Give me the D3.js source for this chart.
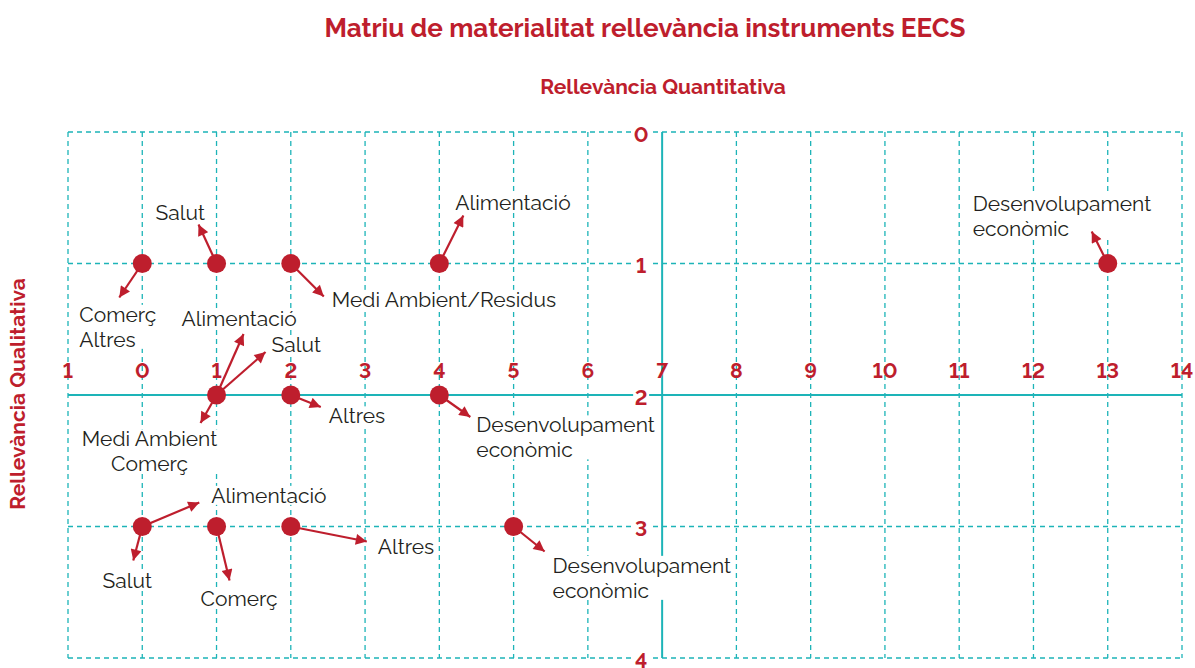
<!DOCTYPE html>
<html>
<head>
  <meta charset="utf-8">
  <title>Matriu de materialitat</title>
  <script src="https://cdn.jsdelivr.net/npm/d3@7"></script>
  <style>
    body { margin: 0; background: #fff; }
    text { font-family: Raleway, "Open Sans", sans-serif; font-variant-numeric: lining-nums; }
  </style>
</head>
<body>
<svg id="chart" width="1195" height="668"></svg>
<script>
  // points: quantitative (x) / qualitative (y) relevance
  const pointX = [0, 1, 2, 4, 13, 1, 2, 4, 0, 1, 2, 5];
  const pointY = [1, 1, 1, 1, 1, 2, 2, 2, 3, 3, 3, 3];
  const xTicks = [-1, 0, 1, 2, 3, 4, 5, 6, 7, 8, 9, 10, 11, 12, 13, 14];
  const xTickLabels = ['1', '0', '1', '2', '3', '4', '5', '6', '7', '8', '9', '10', '11', '12', '13', '14'];
  const yTicks = [0, 1, 2, 3, 4];

  // annotations: point index, arrow tip offset (px), label lines + offset (px)
  const notes = [
    { p: 0, tip: [-23, 34], lines: ['Comerç', 'Altres'], at: [-63, 51], anchor: 'start' },
    { p: 1, tip: [-18, -39], lines: ['Salut'], at: [-61, -51], anchor: 'start' },
    { p: 2, tip: [33, 33], lines: ['Medi Ambient/Residus'], at: [41, 36], anchor: 'start' },
    { p: 3, tip: [24, -48], lines: ['Alimentació'], at: [16, -61], anchor: 'start' },
    { p: 4, tip: [-16, -32], lines: ['Desenvolupament', 'econòmic'], at: [-135, -60], anchor: 'start' },
    { p: 5, tip: [27, -61], lines: ['Alimentació'], at: [-35, -76], anchor: 'start' },
    { p: 5, tip: [49, -43], lines: ['Salut'], at: [55, -50], anchor: 'start' },
    { p: 5, tip: [-16, 28], lines: ['Medi Ambient', 'Comerç'], at: [-67, 44], anchor: 'middle' },
    { p: 6, tip: [30, 12], lines: ['Altres'], at: [38, 21], anchor: 'start' },
    { p: 7, tip: [31, 22], lines: ['Desenvolupament', 'econòmic'], at: [37, 30], anchor: 'start' },
    { p: 8, tip: [57, -24], lines: ['Alimentació'], at: [69, -31], anchor: 'start' },
    { p: 8, tip: [-9, 34], lines: ['Salut'], at: [-15, 54], anchor: 'middle' },
    { p: 9, tip: [13, 54], lines: ['Comerç'], at: [-16, 72], anchor: 'start' },
    { p: 10, tip: [76, 15], lines: ['Altres'], at: [87, 20], anchor: 'start' },
    { p: 11, tip: [31, 25], lines: ['Desenvolupament', 'econòmic'], at: [39, 39], anchor: 'start' }
  ];

  const red = '#be1e2d';
  const teal = '#1db4b8';
  const svg = d3.select('#chart');

  const x = d3.scaleLinear().domain([-1, 14]).range([68, 1182]);
  const y = d3.scaleLinear().domain([0, 4]).range([132, 658]);

  svg.append('defs').append('marker')
    .attr('id', 'head')
    .attr('viewBox', '0 0 10 10')
    .attr('refX', 10).attr('refY', 5)
    .attr('markerWidth', 6).attr('markerHeight', 5)
    .attr('markerUnits', 'strokeWidth')
    .attr('orient', 'auto')
    .append('path').attr('d', 'M0,0L10,5L0,10z').attr('fill', red);

  // grid
  const grid = svg.append('g');
  grid.selectAll('.vx').data(xTicks.filter(d => d !== 7)).join('line')
    .attr('x1', d => x(d)).attr('x2', d => x(d))
    .attr('y1', y(0)).attr('y2', y(4))
    .attr('stroke', teal).attr('stroke-width', 1.3).attr('stroke-dasharray', '5,4');
  grid.selectAll('.hy').data(yTicks.filter(d => d !== 2)).join('line')
    .attr('x1', x(-1)).attr('x2', x(14))
    .attr('y1', d => y(d)).attr('y2', d => y(d))
    .attr('stroke', teal).attr('stroke-width', 1.3).attr('stroke-dasharray', '5,4');
  // main axes
  grid.append('line').attr('x1', x(-1)).attr('x2', x(14)).attr('y1', y(2)).attr('y2', y(2))
    .attr('stroke', teal).attr('stroke-width', 2);
  grid.append('line').attr('x1', x(7)).attr('x2', x(7)).attr('y1', y(0)).attr('y2', y(4))
    .attr('stroke', teal).attr('stroke-width', 2);

  // tick labels
  svg.append('g').selectAll('text').data(xTicks).join('text')
    .attr('x', d => x(d)).attr('y', y(2) - 17)
    .attr('text-anchor', 'middle').attr('font-size', 21).attr('font-weight', 700)
    .attr('fill', red)
    .text((d, i) => xTickLabels[i]);

  const yt = svg.append('g').selectAll('g').data(yTicks).join('g')
    .attr('transform', d => `translate(${x(7) - 21},${y(d) + 2})`);
  yt.append('rect').attr('x', -8).attr('y', -10).attr('width', 16).attr('height', 20).attr('fill', '#fff');
  yt.append('text').attr('text-anchor', 'middle').attr('dy', '0.36em')
    .attr('font-size', 21).attr('font-weight', 700).attr('fill', red)
    .text(d => d);

  // titles
  svg.append('text').attr('x', 645).attr('y', 37).attr('text-anchor', 'middle')
    .attr('font-size', 26).attr('font-weight', 700).attr('fill', red)
    .text('Matriu de materialitat rellevància instruments EECS');
  svg.append('text').attr('x', 663).attr('y', 94).attr('text-anchor', 'middle')
    .attr('font-size', 21).attr('font-weight', 700).attr('fill', red)
    .text('Rellevància Quantitativa');
  svg.append('text').attr('transform', 'translate(25,394) rotate(-90)').attr('text-anchor', 'middle')
    .attr('font-size', 21).attr('font-weight', 700).attr('fill', red)
    .text('Rellevància Qualitativa');

  // labels with white boxes
  const px = i => x(pointX[i]);
  const py = i => y(pointY[i]);
  const lab = svg.append('g').selectAll('g').data(notes).join('g')
    .attr('transform', d => `translate(${px(d.p) + d.at[0]},${py(d.p) + d.at[1]})`);
  lab.each(function (d) {
    const g = d3.select(this);
    const t = g.append('text').attr('text-anchor', d.anchor)
      .attr('font-size', 21).attr('fill', '#231f20');
    t.selectAll('tspan').data(d.lines).join('tspan')
      .attr('x', 0).attr('y', (l, i) => i * 25).attr('dy', '0.35em')
      .text(l => l);
    const b = t.node().getBBox();
    g.insert('rect', 'text').attr('x', b.x - 1).attr('y', b.y + 3)
      .attr('width', b.width + 2).attr('height', b.height - 6).attr('fill', '#fff');
  });

  // arrows
  svg.append('g').selectAll('line').data(notes).join('line')
    .attr('x1', d => px(d.p)).attr('y1', d => py(d.p))
    .attr('x2', d => px(d.p) + d.tip[0]).attr('y2', d => py(d.p) + d.tip[1])
    .attr('stroke', red).attr('stroke-width', 2.2)
    .attr('marker-end', 'url(#head)');

  // points
  svg.append('g').selectAll('circle').data(pointX).join('circle')
    .attr('cx', (d, i) => px(i)).attr('cy', (d, i) => py(i))
    .attr('r', 9.5).attr('fill', red);
</script>
</body>
</html>
